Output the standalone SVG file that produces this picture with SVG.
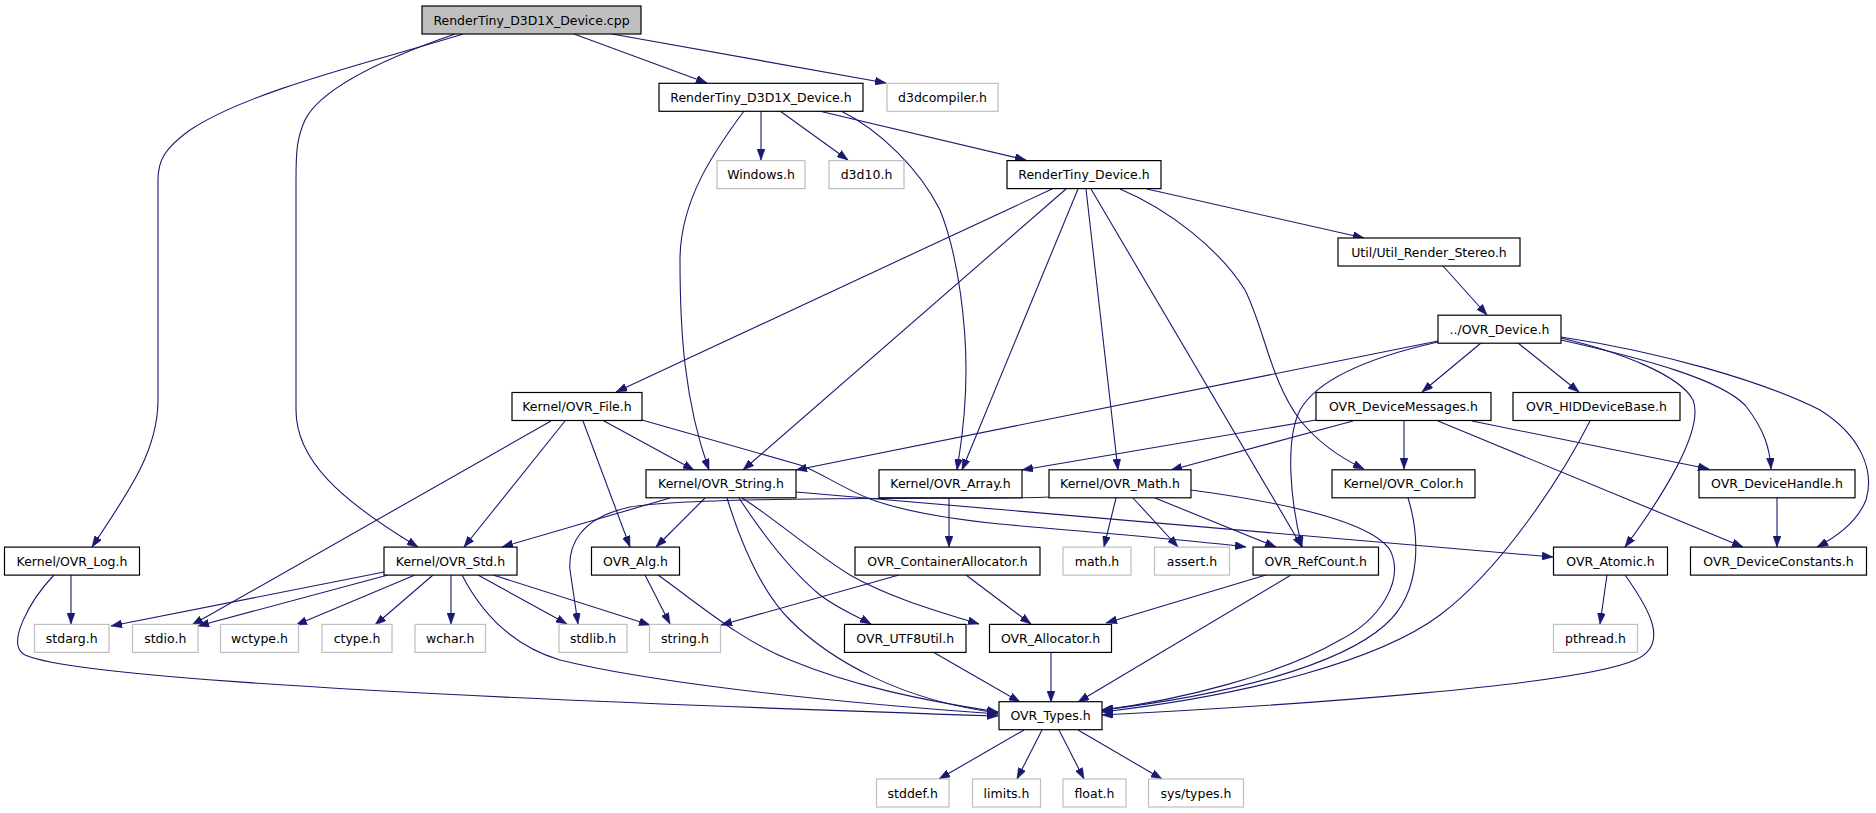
<svg xmlns="http://www.w3.org/2000/svg" width="1876" height="813" viewBox="0 0 1876 813">
<style>
  .node rect { fill: #ffffff; stroke: #000000; stroke-width: 1.2; }
  .node.ext rect { stroke: #bfbfbf; }
  .node.root rect { fill: #bfbfbf; }
  .node text { font-family: "DejaVu Sans", "Liberation Sans", sans-serif; font-size: 12.5px; fill: #000; text-anchor: middle; }
  #edges path { fill: none; stroke: #191970; stroke-width: 1.1; marker-end: url(#arr); }
</style>
<defs>
  <marker id="arr" markerUnits="userSpaceOnUse" markerWidth="11" markerHeight="8" refX="11" refY="4" orient="auto">
    <path d="M0,0 L11,4 L0,8 z" fill="#191970" stroke="#191970" stroke-width="0.5"/>
  </marker>
</defs>
<rect width="1876" height="813" fill="#ffffff"/>
<g id="edges">
  <path d="M463,34 C380,60 250,90 190,130 C165,148 158,160 158,180 L158,400 C158,450 130,490 92,547"/>
  <path d="M455,34 C380,60 320,90 305,120 C297,138 296,150 296,180 L296,410 C296,460 340,500 418,547"/>
  <path d="M574,34 L707,83"/>
  <path d="M612,34 L886,83"/>
  <path d="M761,111 L761,160"/>
  <path d="M780,111 L848,160"/>
  <path d="M819,111 L1026,160"/>
  <path d="M744,111 C715,150 680,200 680,260 C680,330 684,400 709,470"/>
  <path d="M841,111 C880,130 920,170 940,210 C960,260 966,330 966,370 C966,420 960,450 957,470"/>
  <path d="M1052,189 L616,392"/>
  <path d="M1066,189 L743,470"/>
  <path d="M1078,189 L962,470"/>
  <path d="M1086,189 L1118,470"/>
  <path d="M1091,189 L1302,547"/>
  <path d="M1120,189 C1170,210 1220,250 1245,290 C1265,330 1270,380 1300,420 C1320,445 1345,460 1364,469"/>
  <path d="M1147,189 L1364,238"/>
  <path d="M1443,266 L1487,315"/>
  <path d="M1438,341 L796,470"/>
  <path d="M1481,343 L1422,392"/>
  <path d="M1518,343 L1579,392"/>
  <path d="M1438,342 C1380,355 1320,375 1300,410 C1285,440 1290,500 1302,547"/>
  <path d="M1561,338 C1620,352 1680,375 1693,400 C1705,430 1660,500 1625,547"/>
  <path d="M1561,340 C1650,360 1720,380 1745,405 C1765,430 1770,450 1771,469"/>
  <path d="M1561,337 C1660,352 1760,380 1820,410 C1860,435 1875,470 1866,500 C1858,520 1840,535 1817,547"/>
  <path d="M1316,420 L1022,470"/>
  <path d="M1353,421 L1171,470"/>
  <path d="M1404,421 L1404,469"/>
  <path d="M1438,421 L1743,547"/>
  <path d="M1472,421 L1709,469"/>
  <path d="M1590,421 C1560,480 1500,570 1440,615 C1380,660 1250,695 1102,712"/>
  <path d="M1408,498 C1418,530 1425,590 1385,625 C1340,665 1230,695 1102,710"/>
  <path d="M1777,498 L1777,547"/>
  <path d="M1607,575 L1600,624"/>
  <path d="M1625,575 C1650,610 1670,645 1635,660 C1580,685 1300,705 1102,715"/>
  <path d="M1266,575 L1106,623"/>
  <path d="M1291,575 L1078,702"/>
  <path d="M551,421 L192,625"/>
  <path d="M565,421 L464,547"/>
  <path d="M583,421 L630,547"/>
  <path d="M604,421 L694,470"/>
  <path d="M642,420 L800,465 C820,472 840,487 870,499 C900,510 940,518 1000,524 C1100,533 1200,541 1246,547"/>
  <path d="M670,498 L502,547"/>
  <path d="M705,498 L656,547"/>
  <path d="M727,498 C740,540 760,590 790,620 C830,660 900,700 998,713"/>
  <path d="M739,498 C760,530 790,570 820,595 C840,610 855,615 871,624"/>
  <path d="M742,498 C770,515 810,550 850,575 C890,598 940,612 979,624"/>
  <path d="M796,492 L1553,557"/>
  <path d="M384,572 L111,626"/>
  <path d="M388,575 L198,626"/>
  <path d="M415,575 L296,625"/>
  <path d="M433,575 L375,625"/>
  <path d="M451,575 L451,624"/>
  <path d="M478,575 L567,624"/>
  <path d="M493,575 L650,625"/>
  <path d="M462,575 C480,610 510,645 560,660 C640,680 800,700 998,714"/>
  <path d="M71,575 L71,624"/>
  <path d="M54,575 C30,600 5,645 25,655 C80,680 500,700 998,716"/>
  <path d="M645,575 L670,624"/>
  <path d="M658,575 C700,605 740,640 790,660 C850,685 920,700 998,712"/>
  <path d="M899,575 L721,625"/>
  <path d="M966,575 L1031,624"/>
  <path d="M949,498 L949,547"/>
  <path d="M1116,498 L1104,547"/>
  <path d="M1133,498 L1178,547"/>
  <path d="M1155,498 L1276,547"/>
  <path d="M1191,490 C1280,502 1370,520 1390,550 C1405,580 1380,620 1340,640 C1280,675 1180,700 1102,710"/>
  <path d="M1049,497 C1000,500 700,495 630,507 C580,518 568,545 570,570 L578,624"/>
  <path d="M933,652 L1020,702"/>
  <path d="M1051,652 L1051,702"/>
  <path d="M1024,730 L939,779"/>
  <path d="M1042,730 L1017,779"/>
  <path d="M1059,730 L1084,779"/>
  <path d="M1078,730 L1162,779"/>
</g>
<g id="n_cpp" class="node root"><rect x="422" y="6" width="219" height="28"/><text x="531.5" y="24.5">RenderTiny_D3D1X_Device.cpp</text></g>
<g id="n_d3d1x_h" class="node"><rect x="659" y="83.3" width="204" height="28"/><text x="761" y="101.8">RenderTiny_D3D1X_Device.h</text></g>
<g id="n_d3dcompiler" class="node ext"><rect x="887" y="83.3" width="111" height="28"/><text x="942.5" y="101.8">d3dcompiler.h</text></g>
<g id="n_windows" class="node ext"><rect x="717" y="160.6" width="88" height="28"/><text x="761" y="179.1">Windows.h</text></g>
<g id="n_d3d10" class="node ext"><rect x="829" y="160.6" width="75" height="28"/><text x="866.5" y="179.1">d3d10.h</text></g>
<g id="n_rt_device" class="node"><rect x="1007" y="160.6" width="154" height="28"/><text x="1084" y="179.1">RenderTiny_Device.h</text></g>
<g id="n_stereo" class="node"><rect x="1338" y="238" width="182" height="28"/><text x="1429" y="256.5">Util/Util_Render_Stereo.h</text></g>
<g id="n_ovr_device" class="node"><rect x="1438" y="315.2" width="123" height="28"/><text x="1499.5" y="333.7">../OVR_Device.h</text></g>
<g id="n_file" class="node"><rect x="512" y="392.5" width="130" height="28"/><text x="577" y="411">Kernel/OVR_File.h</text></g>
<g id="n_devmsgs" class="node"><rect x="1316" y="392.5" width="175" height="28"/><text x="1403.5" y="411">OVR_DeviceMessages.h</text></g>
<g id="n_hid" class="node"><rect x="1513" y="392.5" width="167" height="28"/><text x="1596.5" y="411">OVR_HIDDeviceBase.h</text></g>
<g id="n_string" class="node"><rect x="646" y="469.8" width="150" height="28"/><text x="721" y="488.3">Kernel/OVR_String.h</text></g>
<g id="n_array" class="node"><rect x="879" y="469.8" width="143" height="28"/><text x="950.5" y="488.3">Kernel/OVR_Array.h</text></g>
<g id="n_math" class="node"><rect x="1049" y="469.8" width="142" height="28"/><text x="1120" y="488.3">Kernel/OVR_Math.h</text></g>
<g id="n_color" class="node"><rect x="1332" y="469.8" width="143" height="28"/><text x="1403.5" y="488.3">Kernel/OVR_Color.h</text></g>
<g id="n_handle" class="node"><rect x="1699" y="469.8" width="156" height="28"/><text x="1777" y="488.3">OVR_DeviceHandle.h</text></g>
<g id="n_log" class="node"><rect x="4.5" y="547.1" width="135" height="28"/><text x="72" y="565.6">Kernel/OVR_Log.h</text></g>
<g id="n_std" class="node"><rect x="384" y="547.1" width="133" height="28"/><text x="450.5" y="565.6">Kernel/OVR_Std.h</text></g>
<g id="n_alg" class="node"><rect x="591.5" y="547.1" width="88" height="28"/><text x="635.5" y="565.6">OVR_Alg.h</text></g>
<g id="n_contalloc" class="node"><rect x="855" y="547.1" width="185" height="28"/><text x="947.5" y="565.6">OVR_ContainerAllocator.h</text></g>
<g id="n_mathh" class="node ext"><rect x="1063" y="547.1" width="68" height="28"/><text x="1097" y="565.6">math.h</text></g>
<g id="n_assert" class="node ext"><rect x="1154.5" y="547.1" width="75" height="28"/><text x="1192" y="565.6">assert.h</text></g>
<g id="n_refcount" class="node"><rect x="1253" y="547.1" width="125.5" height="28"/><text x="1315.75" y="565.6">OVR_RefCount.h</text></g>
<g id="n_atomic" class="node"><rect x="1553.5" y="547.1" width="114" height="28"/><text x="1610.5" y="565.6">OVR_Atomic.h</text></g>
<g id="n_constants" class="node"><rect x="1690.5" y="547.1" width="176" height="28"/><text x="1778.5" y="565.6">OVR_DeviceConstants.h</text></g>
<g id="n_stdarg" class="node ext"><rect x="34.5" y="624.4" width="74.5" height="28"/><text x="71.75" y="642.9">stdarg.h</text></g>
<g id="n_stdio" class="node ext"><rect x="132.5" y="624.4" width="65.5" height="28"/><text x="165.25" y="642.9">stdio.h</text></g>
<g id="n_wctype" class="node ext"><rect x="220.5" y="624.4" width="78" height="28"/><text x="259.5" y="642.9">wctype.h</text></g>
<g id="n_ctype" class="node ext"><rect x="322" y="624.4" width="70" height="28"/><text x="357" y="642.9">ctype.h</text></g>
<g id="n_wchar" class="node ext"><rect x="415" y="624.4" width="70.5" height="28"/><text x="450.25" y="642.9">wchar.h</text></g>
<g id="n_stdlib" class="node ext"><rect x="559" y="624.4" width="68" height="28"/><text x="593" y="642.9">stdlib.h</text></g>
<g id="n_string_h" class="node ext"><rect x="649.5" y="624.4" width="71" height="28"/><text x="685" y="642.9">string.h</text></g>
<g id="n_utf8" class="node"><rect x="844.5" y="624.4" width="121.5" height="28"/><text x="905.25" y="642.9">OVR_UTF8Util.h</text></g>
<g id="n_allocator" class="node"><rect x="989.5" y="624.4" width="122" height="28"/><text x="1050.5" y="642.9">OVR_Allocator.h</text></g>
<g id="n_pthread" class="node ext"><rect x="1553.5" y="624.4" width="84" height="28"/><text x="1595.5" y="642.9">pthread.h</text></g>
<g id="n_types" class="node"><rect x="999" y="701.7" width="103" height="28"/><text x="1050.5" y="720.2">OVR_Types.h</text></g>
<g id="n_stddef" class="node ext"><rect x="876.5" y="779" width="72.5" height="28"/><text x="912.75" y="797.5">stddef.h</text></g>
<g id="n_limits" class="node ext"><rect x="972.5" y="779" width="68" height="28"/><text x="1006.5" y="797.5">limits.h</text></g>
<g id="n_float" class="node ext"><rect x="1063" y="779" width="63" height="28"/><text x="1094.5" y="797.5">float.h</text></g>
<g id="n_systypes" class="node ext"><rect x="1148.5" y="779" width="95" height="28"/><text x="1196" y="797.5">sys/types.h</text></g>
</svg>
